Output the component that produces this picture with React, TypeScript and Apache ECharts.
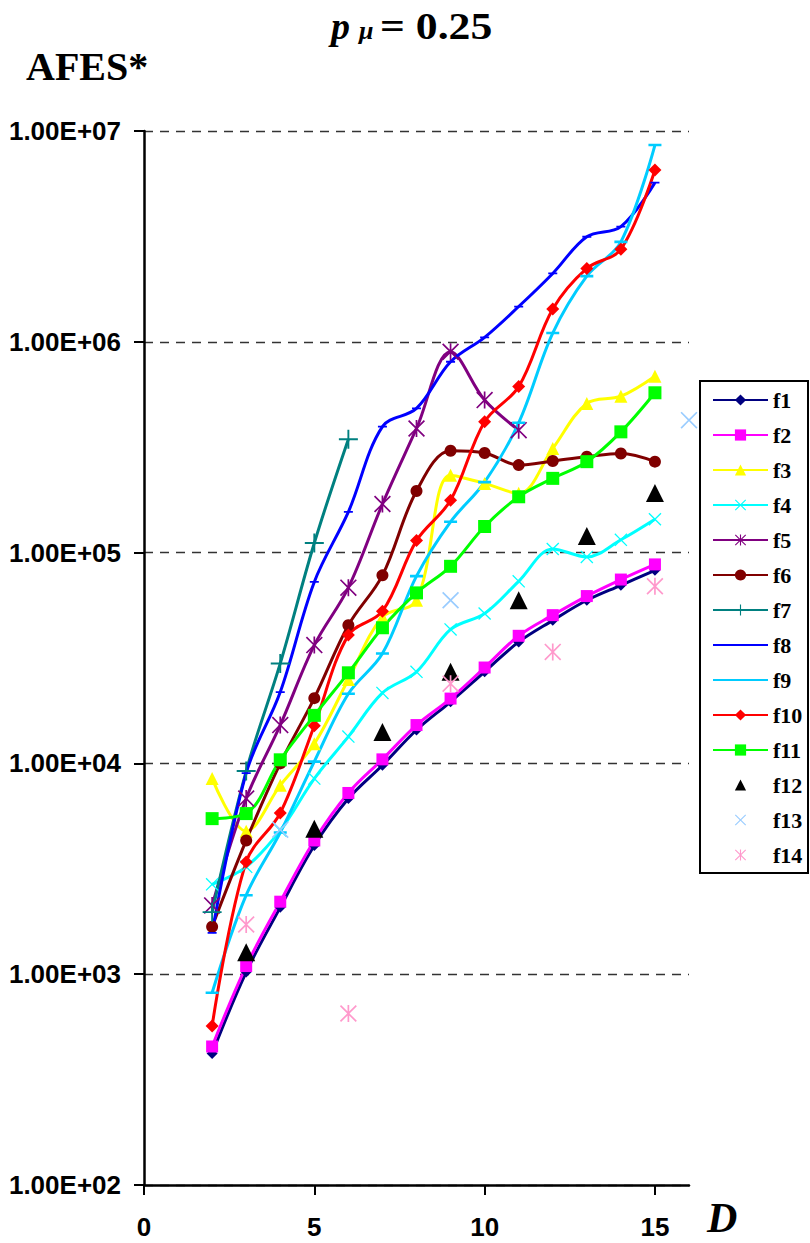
import React, { useEffect, useRef } from 'react';
import * as echarts from 'echarts';

// Dimension D for the full series
const D_FULL = [2, 3, 4, 5, 6, 7, 8, 9, 10, 11, 12, 13, 14, 15];
const D_F5 = [2, 3, 4, 5, 6, 7, 8, 9, 10, 11];
const D_F7 = [2, 3, 4, 5, 6];
const D_F12 = [3, 5, 7, 9, 11, 13, 15];
const D_F13 = [4, 9, 16];
const D_F14 = [3, 6, 9, 12, 15];

const F1 = [421, 1023, 2075, 4080, 6810, 9800, 14400, 19600, 27200, 37700, 47700, 59400, 70000, 82400];
const F2 = [454, 1093, 2208, 4310, 7240, 10450, 15200, 20300, 28500, 40300, 50500, 62200, 74500, 87900];
const F3 = [8470, 4770, 7870, 12400, 25000, 49500, 59400, 233000, 213000, 191000, 312000, 510000, 552000, 687000];
const F4 = [2670, 3230, 4810, 8470, 13400, 21600, 27200, 43200, 51400, 73100, 104000, 95400, 115000, 144000];
const F5 = [2120, 6810, 15200, 36400, 68200, 170000, 388000, 897000, 529000, 381000];
const F6 = [1680, 4310, 10000, 20400, 45200, 78000, 196000, 304000, 297000, 260000, 272000, 285000, 295000, 270000];
const F7 = [1970, 9200, 29800, 111000, 345000];
const F8 = [1570, 9000, 21800, 72600, 156000, 396000, 483000, 804000, 1050000, 1470000, 2110000, 3150000, 3520000, 5690000];
const F9 = [816, 2370, 4700, 10200, 21400, 33200, 77300, 140000, 216000, 413000, 1100000, 2050000, 2980000, 8580000];
const F10 = [568, 3410, 5820, 15100, 40600, 52700, 114000, 177000, 418000, 613000, 1430000, 2230000, 2750000, 6530000];
const F11 = [5470, 5780, 10400, 16900, 26900, 44000, 64400, 86100, 133000, 184000, 225000, 270000, 374000, 573000];
const F12 = [1270, 4900, 14100, 27200, 59400, 120000, 192000];
const F13 = [4850, 59400, 425000];
const F14 = [1720, 651, 23900, 33800, 69200];

const X_TICKS = [0, 5, 10, 15];

// tiny corner specks keep every symbol's bounding box square
const CORNERS = 'M0,0L0.05,0L0,0.05Z M20,20L19.95,20L20,19.95Z ';
const SYM_X = 'path://' + CORNERS + 'M0,1.4L1.4,0L10,8.6L18.6,0L20,1.4L11.4,10L20,18.6L18.6,20L10,11.4L1.4,20L0,18.6L8.6,10Z';
const SYM_AST = 'path://' + CORNERS + 'M0,1.4L1.4,0L10,8.6L18.6,0L20,1.4L11.4,10L20,18.6L18.6,20L10,11.4L1.4,20L0,18.6L8.6,10Z M9,0L11,0L11,20L9,20Z';
const SYM_PLUS = 'path://' + CORNERS + 'M9,0L11,0L11,9L20,9L20,11L11,11L11,20L9,20L9,11L0,11L0,9L9,9Z';
const SYM_DASH = 'path://' + CORNERS + 'M0,8L20,8L20,12L0,12Z';

const zip = (xs: number[], ys: number[]) => xs.map((x, i) => [x, ys[i]]);

function lineSeries(name: string, xs: number[], ys: number[], color: string, symbol: string, size: any) {
  return {
    name,
    type: 'line',
    data: zip(xs, ys),
    smooth: 0.35,
    symbol,
    symbolSize: size,
    symbolKeepAspect: true,
    showSymbol: true,
    lineStyle: { color, width: 3 },
    itemStyle: { color },
    emphasis: { disabled: true },
  };
}

// marker-only series (drawn as a line series with no visible line)
function markerSeries(name: string, xs: number[], ys: number[], color: string, symbol: string, size: number) {
  return {
    name,
    type: 'line',
    data: zip(xs, ys),
    symbol,
    symbolSize: size,
    symbolKeepAspect: true,
    showSymbol: true,
    clip: false,
    lineStyle: { width: 0, opacity: 0 },
    itemStyle: { color, opacity: 1 },
    emphasis: { disabled: true },
  };
}

export default function App() {
  const ref = useRef<HTMLDivElement>(null);
  useEffect(() => {
    const chart = echarts.init(ref.current!, null, { renderer: 'svg' });
    const series = [
      lineSeries('f1', D_FULL, F1, '#000080', 'diamond', 11),
      lineSeries('f2', D_FULL, F2, '#FF00FF', 'rect', 12),
      lineSeries('f3', D_FULL, F3, '#FFFF00', 'triangle', 13),
      lineSeries('f4', D_FULL, F4, '#00FFFF', SYM_X, 13),
      lineSeries('f5', D_F5, F5, '#800080', SYM_AST, 17),
      lineSeries('f6', D_FULL, F6, '#800000', 'circle', 12),
      lineSeries('f7', D_F7, F7, '#008080', SYM_PLUS, 19),
      lineSeries('f8', D_FULL, F8, '#0000FF', SYM_DASH, 9),
      lineSeries('f9', D_FULL, F9, '#00CCFF', SYM_DASH, 13),
      lineSeries('f10', D_FULL, F10, '#FF0000', 'diamond', 13),
      lineSeries('f11', D_FULL, F11, '#00FF00', 'rect', 13),
      markerSeries('f12', D_F12, F12, '#000000', 'triangle', 18),
      markerSeries('f13', D_F13, F13, '#99CCFF', SYM_X, 17),
      markerSeries('f14', D_F14, F14, '#FF99CC', SYM_AST, 17),
    ];
    const axisFont = { fontFamily: 'Liberation Sans', fontWeight: 'bold', fontSize: 26, color: '#000' };
    const serif = { fontFamily: 'Liberation Serif', fontWeight: 'bold', fill: '#000', verticalAlign: 'middle', textVerticalAlign: 'middle' };
    chart.setOption({
      animation: false,
      backgroundColor: '#fff',
      grid: { left: 144, right: 121, top: 131, bottom: 58, containLabel: false },
      xAxis: {
        type: 'value',
        min: 0,
        max: 16,
        interval: 5,
        axisLine: { show: true, onZero: false, lineStyle: { color: '#000', width: 2.5 } },
        axisTick: { show: true, length: 10, inside: false, customValues: X_TICKS, lineStyle: { color: '#000', width: 2 } },
        axisLabel: { ...axisFont, margin: 29, customValues: X_TICKS, formatter: (v: number) => String(v) },
        splitLine: { show: false },
      },
      yAxis: {
        type: 'log',
        logBase: 10,
        min: 100,
        max: 10000000,
        interval: 1,
        axisLine: { show: true, lineStyle: { color: '#000', width: 2.5 } },
        axisTick: { show: true, length: 10, lineStyle: { color: '#000', width: 2 } },
        axisLabel: {
          ...axisFont,
          margin: 23,
          formatter: (v: number) => {
            const e = Math.round(Math.log10(v));
            return '1.00E+' + String(e).padStart(2, '0');
          },
        },
        splitLine: { show: true, lineStyle: { color: '#333', width: 1.3, type: [9, 7] } },
      },
      legend: {
        orient: 'vertical',
        left: 712,
        top: 389,
        padding: 0,
        itemWidth: 55,
        itemHeight: 14,
        itemGap: 13,
        symbolKeepAspect: true,
        selectedMode: false,
        textStyle: { fontFamily: 'Liberation Serif', fontWeight: 'bold', fontSize: 22, color: '#000' },
        data: ['f1', 'f2', 'f3', 'f4', 'f5', 'f6', 'f7', 'f8', 'f9', 'f10', 'f11', 'f12', 'f13', 'f14'],
      },
      graphic: [
        {
          type: 'rect',
          z: -1,
          shape: { x: 700, y: 381, width: 108, height: 492 },
          style: { fill: '#fff', stroke: '#000', lineWidth: 2 },
        },
        {
          type: 'text',
          x: 331,
          y: 26,
          style: { ...serif, text: 'p', fontSize: 38, fontStyle: 'italic' },
        },
        {
          type: 'text',
          x: 359,
          y: 30,
          style: { ...serif, text: 'μ', fontSize: 26, fontStyle: 'italic' },
        },
        {
          type: 'text',
          x: 380,
          y: 26,
          scaleX: 1.15,
          style: { ...serif, text: '= 0.25', fontSize: 38 },
        },
        {
          type: 'text',
          x: 26,
          y: 66,
          style: { ...serif, text: 'AFES*', fontSize: 40 },
        },
        {
          type: 'text',
          x: 707,
          y: 1218,
          style: { ...serif, text: 'D', fontSize: 42, fontStyle: 'italic' },
        },
      ],
      series,
    });
    return () => chart.dispose();
  }, []);
  return <div ref={ref} style={{ position: 'fixed', left: 0, top: 0, width: 810, height: 1243, background: '#fff' }} />;
}
